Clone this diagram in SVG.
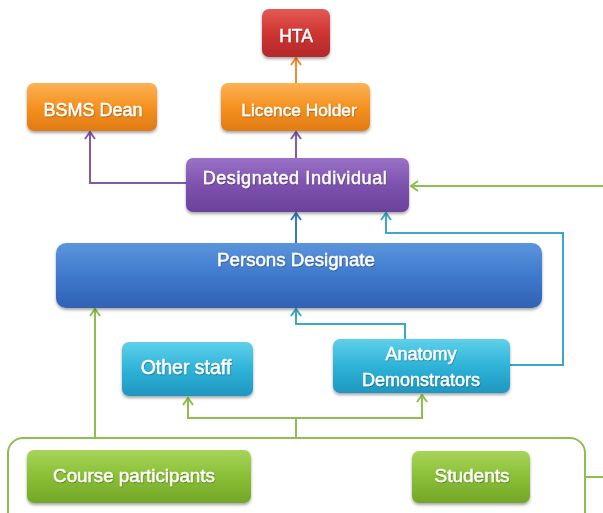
<svg xmlns="http://www.w3.org/2000/svg" width="603" height="513" viewBox="0 0 603 513">
<style>
.lbl{font-family:"Liberation Sans",Arial,sans-serif;fill:#fff;stroke:#fff;stroke-width:0.45;text-anchor:middle;filter:url(#tsh)}
.c{fill:none;stroke-width:2}
</style>
<defs>
<filter id="sh" x="-10%" y="-20%" width="120%" height="150%"><feDropShadow dx="0" dy="2" stdDeviation="1.5" flood-color="#000" flood-opacity="0.35"/></filter>
<filter id="tsh" x="-5%" y="-20%" width="110%" height="150%"><feDropShadow dx="0.5" dy="1" stdDeviation="0.6" flood-color="#000" flood-opacity="0.35"/></filter>
<linearGradient id="gRed" x1="0" y1="0" x2="0" y2="1"><stop offset="0" stop-color="#e45a55"/><stop offset="0.5" stop-color="#cf3532"/><stop offset="1" stop-color="#b3292a"/></linearGradient>
<linearGradient id="gOr" x1="0" y1="0" x2="0" y2="1"><stop offset="0" stop-color="#fbb257"/><stop offset="0.5" stop-color="#f5921f"/><stop offset="1" stop-color="#e07a16"/></linearGradient>
<linearGradient id="gPu" x1="0" y1="0" x2="0" y2="1"><stop offset="0" stop-color="#9a72c7"/><stop offset="0.5" stop-color="#7d52ae"/><stop offset="1" stop-color="#6a4299"/></linearGradient>
<linearGradient id="gBl" x1="0" y1="0" x2="0" y2="1"><stop offset="0" stop-color="#5b95dd"/><stop offset="0.5" stop-color="#3f79cc"/><stop offset="1" stop-color="#2f62b3"/></linearGradient>
<linearGradient id="gCy" x1="0" y1="0" x2="0" y2="1"><stop offset="0" stop-color="#5fd0ea"/><stop offset="0.5" stop-color="#2fb3d8"/><stop offset="1" stop-color="#1f97c0"/></linearGradient>
<linearGradient id="gGr" x1="0" y1="0" x2="0" y2="1"><stop offset="0" stop-color="#a7d45a"/><stop offset="0.5" stop-color="#8abf36"/><stop offset="1" stop-color="#73a628"/></linearGradient>
<marker id="aOr" viewBox="0 0 12 12" refX="11" refY="6" markerWidth="12" markerHeight="12" markerUnits="userSpaceOnUse" orient="auto"><path d="M4,1 L11,6 L4,11" fill="none" stroke="#f28c2e" stroke-width="2"/></marker>
<marker id="aPu" viewBox="0 0 12 12" refX="11" refY="6" markerWidth="12" markerHeight="12" markerUnits="userSpaceOnUse" orient="auto"><path d="M4,1 L11,6 L4,11" fill="none" stroke="#7e5bab" stroke-width="2"/></marker>
<marker id="aBl" viewBox="0 0 12 12" refX="11" refY="6" markerWidth="12" markerHeight="12" markerUnits="userSpaceOnUse" orient="auto"><path d="M4,1 L11,6 L4,11" fill="none" stroke="#3c74c4" stroke-width="2"/></marker>
<marker id="aCy" viewBox="0 0 12 12" refX="11" refY="6" markerWidth="12" markerHeight="12" markerUnits="userSpaceOnUse" orient="auto"><path d="M4,1 L11,6 L4,11" fill="none" stroke="#3aa9c9" stroke-width="2"/></marker>
<marker id="aGr" viewBox="0 0 12 12" refX="11" refY="6" markerWidth="12" markerHeight="12" markerUnits="userSpaceOnUse" orient="auto"><path d="M4,1 L11,6 L4,11" fill="none" stroke="#8dbf4f" stroke-width="2"/></marker>
</defs>
<rect width="603" height="513" fill="#fff"/>
<g id="connectors">
<path class="c" stroke="#f28c2e" d="M296,83 L296,58" marker-end="url(#aOr)"/>
<path class="c" stroke="#7e5bab" d="M296,158 L296,132" marker-end="url(#aPu)"/>
<path class="c" stroke="#7e5bab" d="M187,183 L90,183 L90,132" marker-end="url(#aPu)"/>
<path class="c" stroke="#3c74c4" d="M296,243 L296,213" marker-end="url(#aBl)"/>
<path class="c" stroke="#3aa9c9" d="M510,365 L563,365 L563,233 L386,233 L386,213" marker-end="url(#aCy)"/>
<path class="c" stroke="#3aa9c9" d="M405,339 L405,324 L296,324 L296,309" marker-end="url(#aCy)"/>
<path class="c" stroke="#8dbf4f" d="M585,477 L606,477 L606,186 L411,186" marker-end="url(#aGr)"/>
<path class="c" stroke="#8dbf4f" d="M95,438 L95,309" marker-end="url(#aGr)"/>
<path class="c" stroke="#8dbf4f" d="M296,438 L296,418"/>
<path class="c" stroke="#8dbf4f" d="M296,418 L188,418 L188,398" marker-end="url(#aGr)"/>
<path class="c" stroke="#8dbf4f" d="M296,418 L422,418 L422,395" marker-end="url(#aGr)"/>
</g>
<g id="group">
<rect x="8" y="438" width="577" height="92" rx="15" fill="none" stroke="#8dbf4f" stroke-width="2"/>
</g>
<g id="hta">
<rect x="262" y="9" width="68" height="48" rx="7" fill="url(#gRed)" filter="url(#sh)"/>
<text class="lbl" x="296" y="41.5" font-size="17.5">HTA</text>
</g>
<g id="bsms">
<rect x="27" y="83" width="130" height="48" rx="7" fill="url(#gOr)" filter="url(#sh)"/>
<text class="lbl" x="93" y="116" font-size="18">BSMS Dean</text>
</g>
<g id="licence">
<rect x="221" y="83" width="149" height="48" rx="7" fill="url(#gOr)" filter="url(#sh)"/>
<text class="lbl" x="299" y="116" font-size="17.3">Licence Holder</text>
</g>
<g id="designated">
<rect x="186" y="158" width="223" height="54" rx="7" fill="url(#gPu)" filter="url(#sh)"/>
<text class="lbl" x="295" y="184" font-size="18" letter-spacing="0.6">Designated Individual</text>
</g>
<g id="persons">
<rect x="56" y="243" width="486" height="65" rx="10" fill="url(#gBl)" filter="url(#sh)"/>
<text class="lbl" x="296" y="265.5" font-size="18.7">Persons Designate</text>
</g>
<g id="otherstaff">
<rect x="122" y="342" width="131" height="54" rx="7" fill="url(#gCy)" filter="url(#sh)"/>
<text class="lbl" x="186" y="374" font-size="19.5">Other staff</text>
</g>
<g id="anatomy">
<rect x="333" y="339" width="177" height="54" rx="7" fill="url(#gCy)" filter="url(#sh)"/>
<text class="lbl" x="421" y="360" font-size="18">Anatomy</text>
<text class="lbl" x="421" y="385.5" font-size="18">Demonstrators</text>
</g>
<g id="course">
<rect x="27" y="450" width="224" height="53" rx="7" fill="url(#gGr)" filter="url(#sh)"/>
<text class="lbl" x="134" y="481.5" font-size="18.8">Course participants</text>
</g>
<g id="students">
<rect x="412" y="451" width="118" height="52" rx="7" fill="url(#gGr)" filter="url(#sh)"/>
<text class="lbl" x="472" y="481.5" font-size="19">Students</text>
</g>
</svg>
